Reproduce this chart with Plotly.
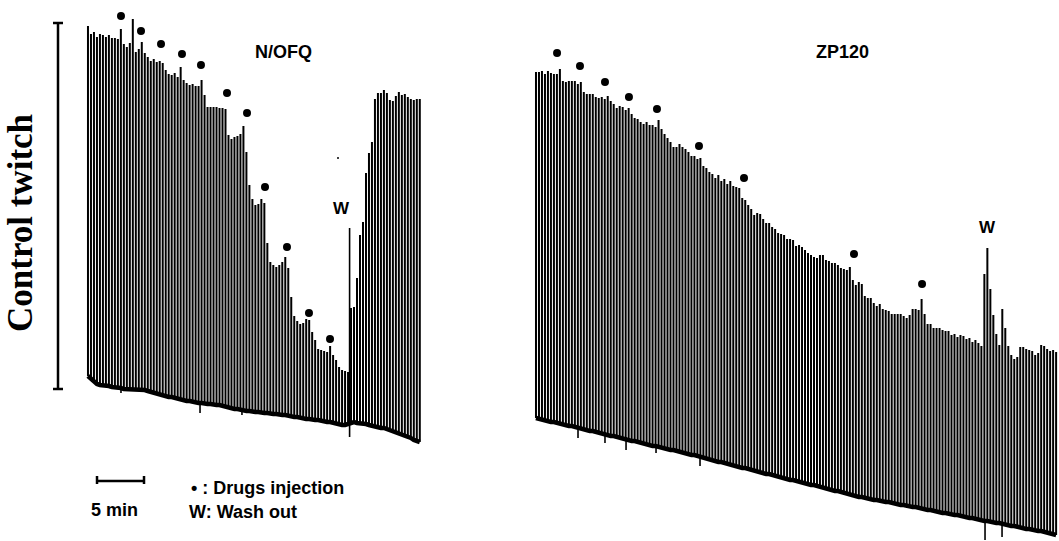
import plotly.graph_objects as go

# ---- recording parameters -------------------------------------------------
PX_PER_MIN = 9.4          # chart speed: 5 min scale bar = 47 px
T0_LEFT = 9.36            # time of first twitch, N/OFQ record (min)
T0_RIGHT = 57.02          # time of first twitch, ZP120 record (min)
STIM_INTERVAL = 0.318     # min between electrically evoked twitches

# ---- N/OFQ record: twitch peak and trough (tension, a.u.) ------------------
left_peak = [
    474, 466, 468, 463, 466, 465, 463, 465, 462, 462, 461,
    471,
    456, 453, 457,
    481,
    448, 451,
    458,
    447, 443, 439, 441, 438, 439, 437, 430, 426, 425, 427, 423,
    433,
    420, 417, 415, 416, 414, 414,
    420,
    405, 393, 393, 393, 393, 392, 392, 391,
    365, 361, 363, 364, 366,
    374,
    348, 315, 301, 295, 296, 301, 297,
    257, 238, 235, 233, 235, 238, 243,
    232, 203, 184, 179, 176, 177, 181, 180,
    168, 160, 151, 150, 149, 148, 154,
    145, 140, 133, 130, 129, 128,
    192, 193, 222, 265, 278, 327, 347, 358,
    401, 407, 407, 410, 407, 400, 399, 404, 408, 405, 406, 403, 401, 400, 401, 401,
]
left_base = [
    124, 121, 118, 116, 115, 115, 114, 114, 113, 113,
    112, 112, 111, 111, 111, 111, 110, 110, 110, 110,
    109, 108, 107, 107, 106, 105, 104, 103, 103, 102,
    101, 101, 100, 99, 99, 98, 98, 97, 97, 96,
    96, 96, 95, 95, 95, 94, 93, 93, 92, 91,
    91, 90, 90, 89, 89, 88, 88, 88, 87, 87,
    87, 86, 86, 86, 85, 85, 85, 84, 84, 83,
    83, 82, 82, 81, 81, 80, 80, 80, 79, 79,
    78, 78, 77, 77, 76, 75, 75, 76, 78, 78,
    77, 77, 76, 76, 75, 74, 74, 73, 72, 72,
    71, 70, 69, 68, 67, 66, 65, 63, 62, 60,
    59, 58,
]

# ---- ZP120 record -----------------------------------------------------------
right_peak = [
    428, 428, 429, 426, 429, 427, 426, 426,
    431,
    419, 418, 419, 419, 419, 416,
    418,
    408, 406, 406, 406, 403, 402, 403, 401,
    404,
    399, 396, 392, 394, 393, 390,
    392,
    386, 382, 381, 378, 376, 378, 375, 375, 373,
    380,
    371, 366, 362, 358, 353, 353, 356, 353, 351, 348, 344, 344, 341,
    342,
    334, 332, 328, 326, 322, 325, 319, 321, 316, 319, 314, 313, 312,
    302, 300, 295, 291, 285, 287, 286, 281, 277, 277, 273, 271, 267, 266, 265, 261,
    261, 260, 254, 255, 253, 250, 247, 245, 243, 242, 245, 245, 240, 239, 237, 237,
    235, 232, 231, 230,
    233,
    220, 215, 218, 216, 204, 202, 202, 197, 194, 196, 191, 190, 189, 186, 186, 186,
    186, 184, 182, 185, 191, 191, 190,
    201,
    186, 176, 176, 172, 172, 172, 170, 169, 169, 165, 166, 163, 165, 164, 161, 162,
    158, 160, 157, 154,
    226, 252, 211, 185, 166, 155, 191, 172, 154, 145, 141, 143, 153, 153, 151, 150,
    149, 145, 147, 155, 154, 151, 149, 150, 148,
]
right_base = [
    82, 81, 81, 80, 79, 78, 78, 77, 76, 76,
    75, 74, 74, 73, 72, 71, 71, 70, 69, 69,
    68, 67, 66, 66, 65, 64, 64, 63, 62, 62,
    61, 60, 59, 59, 58, 57, 57, 56, 55, 54,
    54, 53, 52, 52, 51, 50, 50, 49, 48, 47,
    47, 46, 45, 45, 44, 43, 42, 42, 41, 40,
    39, 38, 38, 37, 36, 35, 35, 34, 33, 32,
    32, 31, 30, 29, 29, 28, 27, 26, 26, 25,
    24, 24, 23, 22, 21, 20, 20, 19, 18, 18,
    17, 16, 15, 15, 14, 13, 12, 11, 11, 10,
    9, 9, 8, 7, 6, 5, 4, 4, 3, 3,
    2, 1, 1, 0, 0, -1, -1, -2, -2, -3,
    -3, -4, -5, -5, -6, -6, -7, -7, -8, -9,
    -9, -10, -10, -11, -11, -12, -13, -13, -14, -14,
    -15, -15, -16, -17, -17, -18, -18, -19, -19, -20,
    -21, -21, -22, -22, -23, -23, -24, -25, -25, -26,
    -26, -27, -27, -28, -29, -29, -30, -30, -31, -31,
    -32, -33, -33, -34, -35,
]

# ---- drug injections (time in min, marker level) ----------------------------
left_inj_time = [12.87, 15.0, 17.13, 19.36, 21.38, 24.15, 26.28, 28.19, 30.53, 32.87, 35.11]
left_inj_level = [484, 469, 456, 446, 435, 407, 387, 313, 253, 187, 161]
right_inj_time = [59.26, 61.70, 64.36, 66.91, 69.89, 74.36, 79.15, 90.85, 98.09]
right_inj_level = [447, 434, 418, 403, 391, 354, 322, 246, 216]

# injection artefacts on the trough trace: time, top, bottom
artefact_time = [12.87, 21.28, 25.74, 61.49, 64.36, 66.60, 69.79, 74.47, 104.79, 106.60]
artefact_top = [114, 99, 92, 74, 68, 63, 56, 45, -19, -22]
artefact_bottom = [107, 87, 85, 62, 57, 50, 47, 34, -40, -37]

# wash-out deflection of the N/OFQ record
wash_time = 37.19
wash_top = 272
wash_bottom = 63
stray_mark = (35.96, 342)

# calibration bars
control_bar_time = 6.17
control_bar_low, control_bar_high = 111, 477
scale_start, scale_len_min, scale_level = 10.32, 5, 19

BLACK = "#000000"
SANS = "Liberation Sans, Arial, sans-serif"
SERIF = "Liberation Serif, Times New Roman, serif"


def twitch_segments(t0, peaks, bases):
    xs, ys, ts = [], [], []
    for i, (p, b) in enumerate(zip(peaks, bases)):
        t = t0 + i * STIM_INTERVAL
        ts.append(t)
        xs += [t, t, None]
        ys += [b, p, None]
    return xs, ys, ts


fig = go.Figure()

for t0, peaks, bases in [(T0_LEFT, left_peak, left_base), (T0_RIGHT, right_peak, right_base)]:
    xs, ys, ts = twitch_segments(t0, peaks, bases)
    fig.add_trace(go.Scatter(x=xs, y=ys, mode="lines",
                             line=dict(color=BLACK, width=2.0), hoverinfo="skip"))
    fig.add_trace(go.Scatter(x=ts, y=bases, mode="lines",
                             line=dict(color=BLACK, width=4.5), hoverinfo="skip"))

# artefacts and wash-out deflection
ax, ay = [], []
for t, top, bot in zip(artefact_time, artefact_top, artefact_bottom):
    ax += [t, t, None]
    ay += [top, bot, None]
ax += [wash_time, wash_time, None]
ay += [wash_bottom, wash_top, None]
fig.add_trace(go.Scatter(x=ax, y=ay, mode="lines",
                         line=dict(color=BLACK, width=1.6), hoverinfo="skip"))

# injection markers
fig.add_trace(go.Scatter(x=left_inj_time + right_inj_time,
                         y=left_inj_level + right_inj_level,
                         mode="markers", marker=dict(color=BLACK, size=8),
                         hoverinfo="skip"))
fig.add_trace(go.Scatter(x=[stray_mark[0]], y=[stray_mark[1]], mode="markers",
                         marker=dict(color=BLACK, size=2), hoverinfo="skip"))

# control twitch calibration bar
cap = 5 / PX_PER_MIN
bar = dict(type="line", xref="x", yref="y", line=dict(color=BLACK, width=2.5))
fig.add_shape(**bar, x0=control_bar_time, x1=control_bar_time, y0=control_bar_low, y1=control_bar_high)
for lvl in (control_bar_low, control_bar_high):
    fig.add_shape(**bar, x0=control_bar_time - cap, x1=control_bar_time + cap, y0=lvl, y1=lvl)

# time scale bar
fig.add_shape(**bar, x0=scale_start, x1=scale_start + scale_len_min, y0=scale_level, y1=scale_level)
for tx in (scale_start, scale_start + scale_len_min):
    fig.add_shape(**bar, x0=tx, x1=tx, y0=scale_level - 3, y1=scale_level + 5)


def label(text, x, y, size=18, family=SANS, anchor="center", angle=0):
    fig.add_annotation(text=text, x=x, y=y, xref="x", yref="y", showarrow=False,
                       xanchor=anchor, yanchor="middle", textangle=angle,
                       font=dict(family=family, size=size, color=BLACK))


label("<b>Control twitch</b>", 2.13, 277, size=35, family=SERIF, angle=-90)
label("<b>N/OFQ</b>", 30.2, 448)
label("<b>ZP120</b>", 89.6, 448)
label("<b>W</b>", 36.28, 292, size=17)
label("<b>W</b>", 105.1, 273, size=17)
label("<b>5 min</b>", 12.13, -10)
label("<b>• : Drugs injection</b>", 20.11, 12, anchor="left")
label("<b>W: Wash out</b>", 19.89, -12, anchor="left")

fig.update_layout(
    width=1059, height=541,
    margin=dict(l=0, r=0, t=0, b=0),
    paper_bgcolor="white", plot_bgcolor="white",
    showlegend=False,
    xaxis=dict(range=[0, 1059 / PX_PER_MIN], visible=False, fixedrange=True),
    yaxis=dict(range=[-41, 500], visible=False, fixedrange=True),
)

fig.write_html("out.html")
